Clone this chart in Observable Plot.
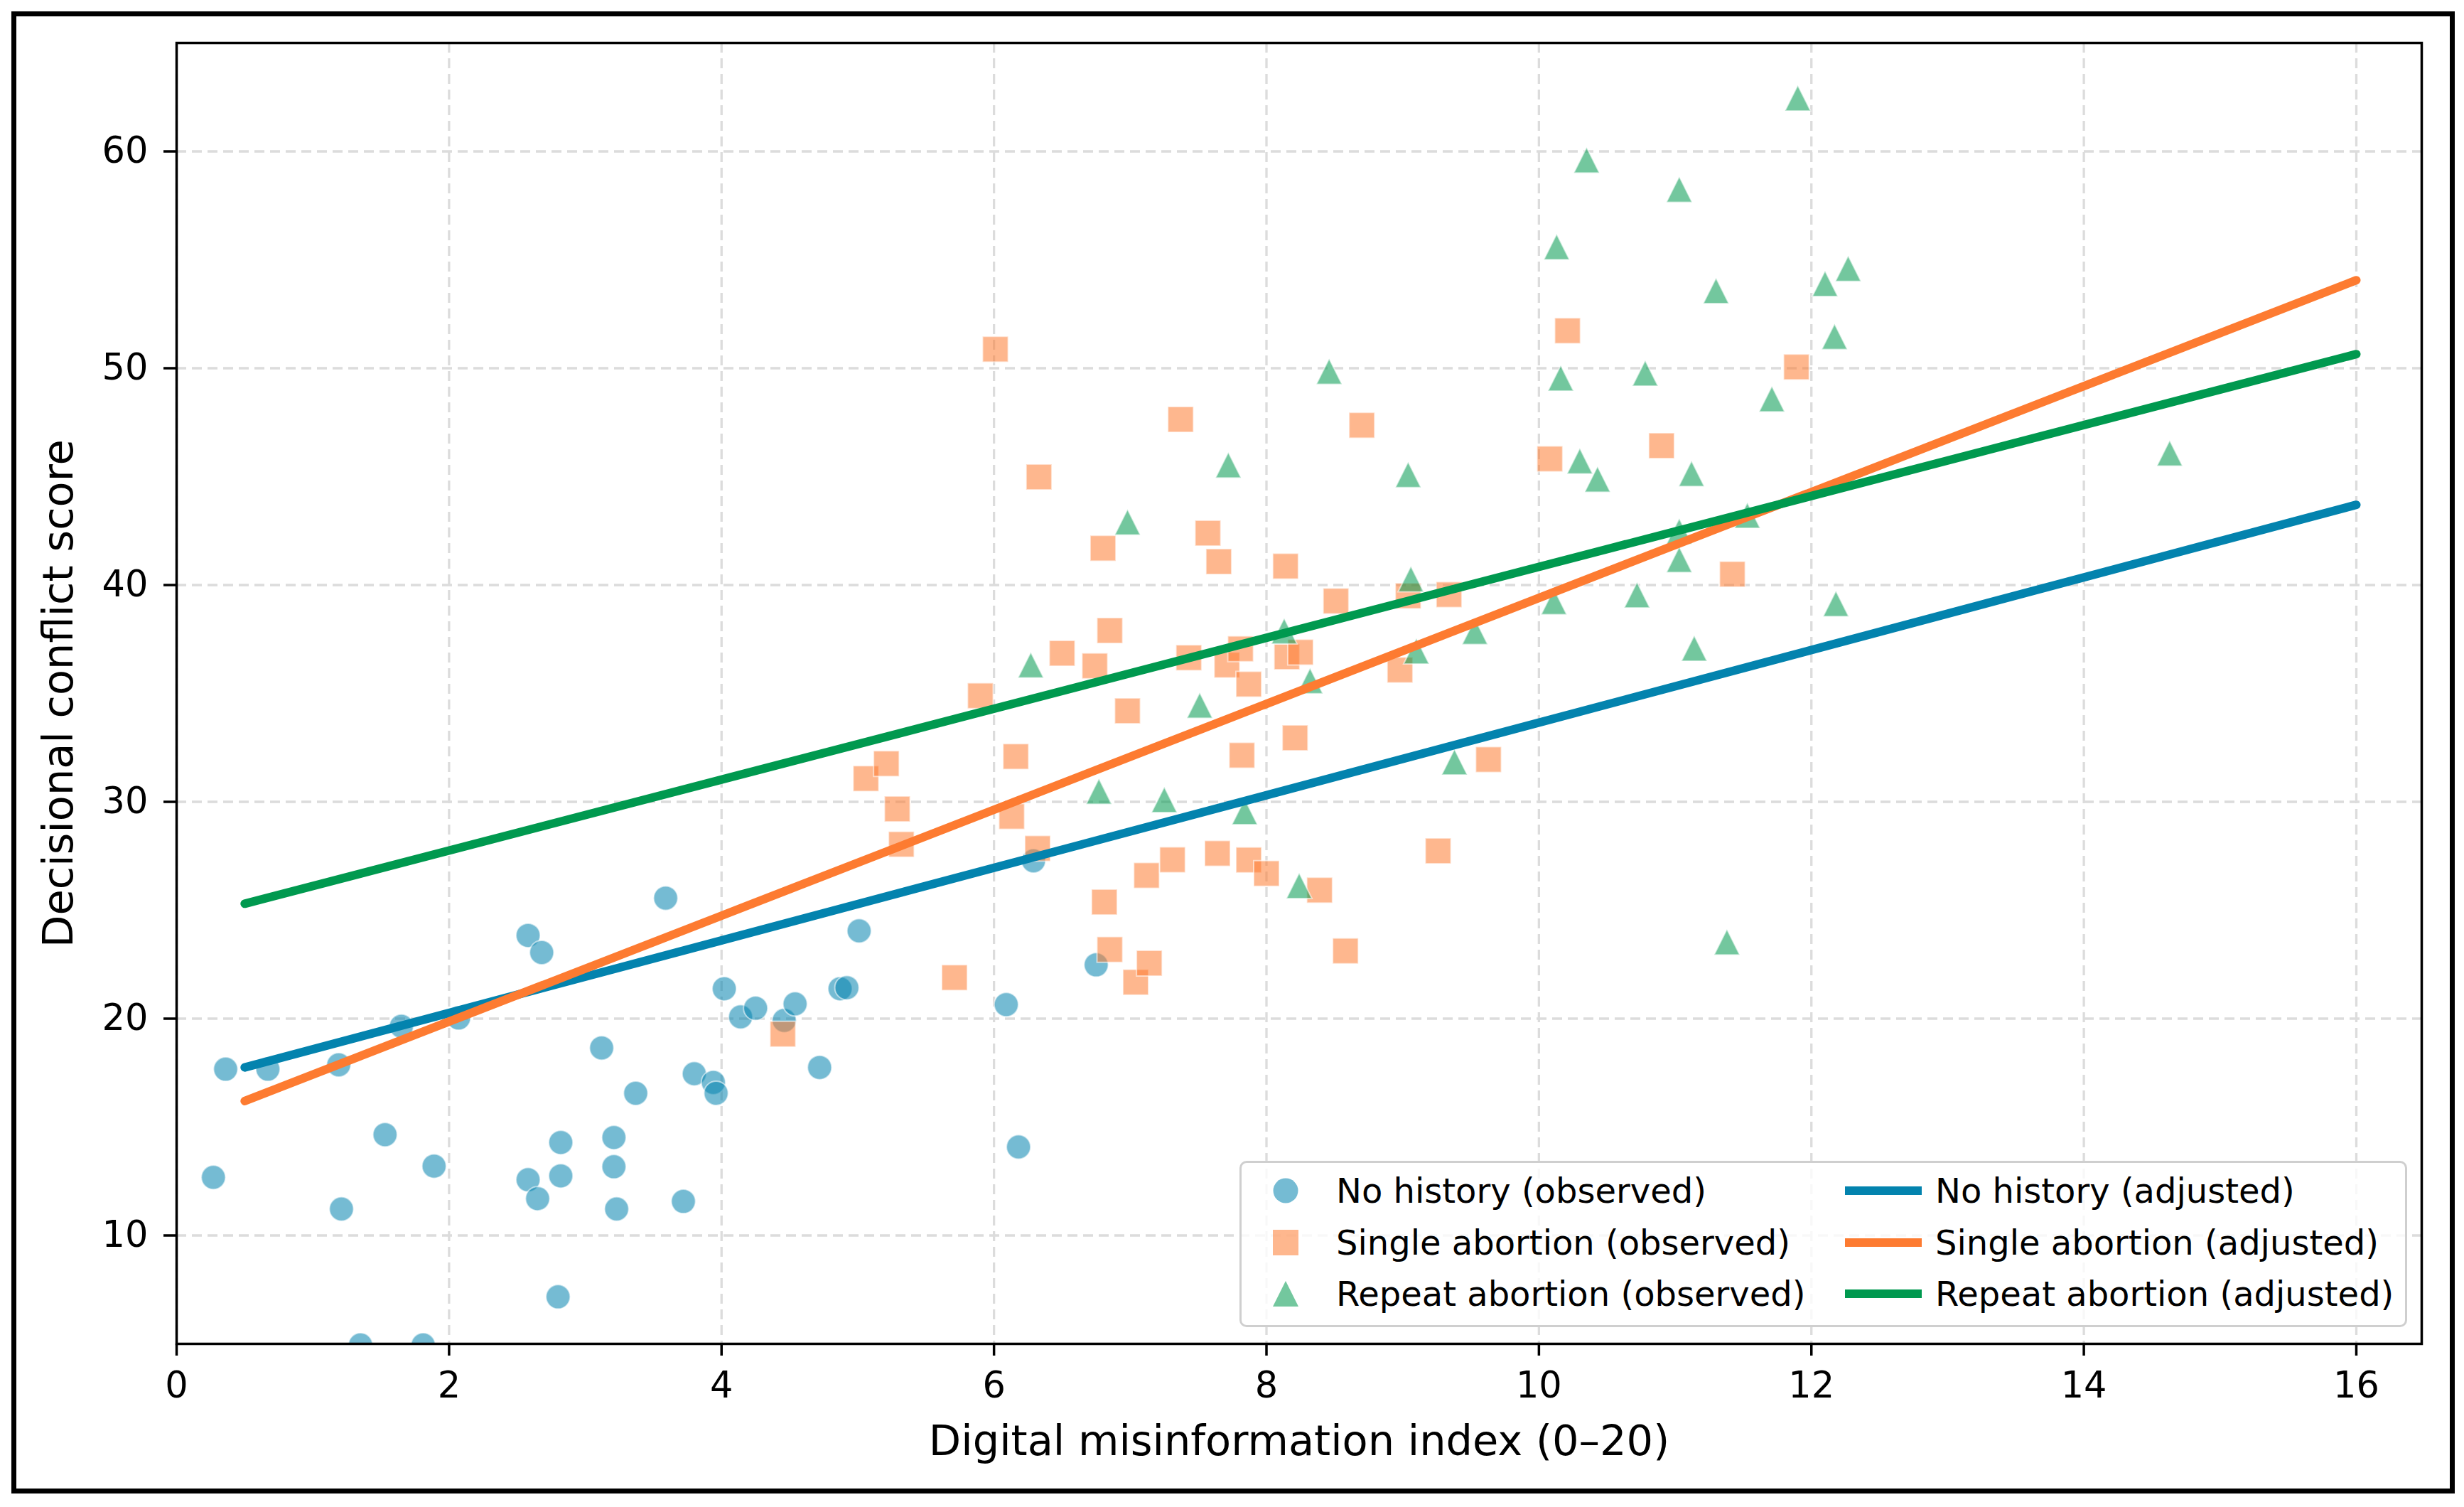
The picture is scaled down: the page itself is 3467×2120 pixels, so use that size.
<!DOCTYPE html>
<html>
<head>
<meta charset="utf-8">
<script src="https://cdn.jsdelivr.net/npm/d3@7"></script>
<script src="https://cdn.jsdelivr.net/npm/@observablehq/plot@0.6"></script>
<style>
  html, body { margin: 0; padding: 0; background: #ffffff; }
  #wrap { position: relative; width: 3467px; height: 2120px; background: #ffffff; overflow: hidden; font-family: "DejaVu Sans", sans-serif; }
  #chart { position: absolute; left: 0; top: 0; }
  #border { position: absolute; left: 16px; top: 16px; width: 3438px; height: 2085px; box-sizing: border-box; border: 7px solid #000; pointer-events: none; }
  #legend { position: absolute; left: 1744px; top: 1633px; width: 1643px; height: 234px; box-sizing: border-box; border: 3px solid #cfcfcf; border-radius: 10px; background: rgba(255,255,255,0.8); }
  .entry { position: absolute; height: 60px; line-height: 60px; font-size: 48px; color: #000; white-space: nowrap; }
  .handle { position: absolute; }
</style>
</head>
<body>
<div id="wrap">
  <div id="chart"></div>
  <div id="legend"></div>
  <div id="border"></div>
</div>
<script>
// ---------- data ----------
const xTicks = [0, 2, 4, 6, 8, 10, 12, 14, 16];
const yTicks = [10, 20, 30, 40, 50, 60];

const xLabel = "Digital misinformation index (0–20)";
const yLabel = "Decisional conflict score";

const seriesNames = ["No history", "Single abortion", "Repeat abortion"];
const seriesColors = ["#0383ae", "#fd7b31", "#00994f"];

// No history (observed)
const noHistX = [0.27, 0.36, 0.67, 1.19, 1.21, 1.35, 1.53, 1.65, 1.81, 1.89, 2.07, 2.58, 2.68, 2.58, 2.65, 2.82, 2.82, 2.80, 3.12, 3.21, 3.21, 3.23, 3.37, 3.59, 3.80, 3.72, 3.94, 3.96, 4.02, 4.14, 4.25, 4.46, 4.54, 4.72, 4.87, 4.92, 5.01, 6.09, 6.18, 6.29, 6.75];
const noHistY = [12.68, 17.67, 17.67, 17.87, 11.22, 4.95, 14.65, 19.65, 4.95, 13.20, 20.03, 23.84, 23.05, 12.57, 11.70, 12.75, 14.29, 7.17, 18.65, 14.52, 13.17, 11.22, 16.56, 25.56, 17.46, 11.57, 17.06, 16.56, 21.38, 20.08, 20.48, 19.92, 20.68, 17.75, 21.38, 21.43, 24.05, 20.65, 14.08, 27.28, 22.48];

// Single abortion (observed)
const singleX = [4.45, 5.06, 5.21, 5.29, 5.32, 5.71, 5.90, 6.01, 6.13, 6.16, 6.32, 6.33, 6.50, 6.74, 6.80, 6.81, 6.85, 6.85, 6.98, 7.04, 7.12, 7.14, 7.31, 7.37, 7.43, 7.57, 7.64, 7.65, 7.71, 7.81, 7.82, 7.87, 7.87, 8.00, 8.14, 8.15, 8.21, 8.25, 8.39, 8.51, 8.58, 8.70, 8.98, 9.04, 9.26, 9.34, 9.63, 10.08, 10.21, 10.90, 11.42, 11.89];
const singleY = [19.29, 31.07, 31.76, 29.67, 28.04, 21.89, 34.89, 50.88, 29.33, 32.09, 27.85, 44.98, 36.85, 36.27, 41.70, 25.38, 37.90, 23.19, 34.20, 21.68, 26.61, 22.56, 27.33, 47.64, 36.65, 42.39, 27.62, 41.08, 36.31, 37.06, 32.15, 35.43, 27.32, 26.70, 40.87, 36.69, 32.95, 36.90, 25.93, 39.26, 23.12, 47.37, 36.08, 39.50, 27.74, 39.56, 31.95, 45.82, 51.73, 46.43, 40.50, 50.06];

// Repeat abortion (observed)
const repeatX = [6.27, 6.77, 6.98, 7.25, 7.51, 7.72, 7.84, 8.13, 8.24, 8.32, 8.46, 9.04, 9.06, 9.10, 9.38, 9.53, 10.11, 10.13, 10.16, 10.30, 10.35, 10.43, 10.72, 10.78, 11.03, 11.03, 11.03, 11.12, 11.14, 11.30, 11.38, 11.53, 11.71, 11.90, 12.10, 12.17, 12.18, 12.27, 14.63];
const repeatY = [36.31, 30.48, 42.90, 30.10, 34.45, 45.53, 29.54, 37.88, 26.13, 35.58, 49.85, 45.09, 40.28, 36.95, 31.84, 37.85, 39.23, 55.60, 49.54, 45.72, 59.60, 44.88, 39.54, 49.77, 58.25, 42.48, 41.17, 45.14, 37.08, 53.57, 23.53, 43.21, 48.58, 62.46, 53.90, 51.46, 39.14, 54.60, 46.08];

// Adjusted (fitted) lines: endpoints
const fitX = [0.5, 16];
const noHistFit = [17.75, 43.70];
const singleFit = [16.20, 54.06];
const repeatFit = [25.30, 50.65];

// ---------- build tables ----------
const pts = (xs, ys) => xs.map((x, i) => ({x, y: ys[i]}));
const noHistPts = pts(noHistX, noHistY);
const singlePts = pts(singleX, singleY);
const repeatPts = pts(repeatX, repeatY);

// custom matplotlib-like symbols (bbox-centred)
const squareSym = {draw(ctx, size) { const r = Math.sqrt(size / Math.PI); ctx.rect(-r, -r, 2 * r, 2 * r); }};
const triSym = {draw(ctx, size) { const r = Math.sqrt(size / Math.PI); ctx.moveTo(0, -r); ctx.lineTo(r, r); ctx.lineTo(-r, r); ctx.closePath(); }};

const ptAlpha = 0.55;

const chart = Plot.plot({
  width: 3467,
  height: 2120,
  marginLeft: 248,
  marginRight: 60,
  marginTop: 60,
  marginBottom: 230,
  style: {fontFamily: "DejaVu Sans", fontSize: "50px", color: "#000", background: "transparent", overflow: "visible"},
  x: {domain: [0, 16.48]},
  y: {domain: [5, 65]},
  marks: [
    Plot.gridX({ticks: xTicks, stroke: "#dcdcdc", strokeOpacity: 1, strokeWidth: 3.3, strokeDasharray: "14,8"}),
    Plot.gridY({ticks: yTicks, stroke: "#dcdcdc", strokeOpacity: 1, strokeWidth: 3.3, strokeDasharray: "14,8"}),
    Plot.dot(noHistPts, {x: "x", y: "y", r: 17, symbol: "circle", fill: seriesColors[0], fillOpacity: ptAlpha, stroke: "white", strokeOpacity: ptAlpha, strokeWidth: 2, clip: true}),
    Plot.dot(singlePts, {x: "x", y: "y", r: 18, symbol: squareSym, fill: seriesColors[1], fillOpacity: ptAlpha, stroke: "white", strokeOpacity: ptAlpha, strokeWidth: 2, clip: true}),
    Plot.dot(repeatPts, {x: "x", y: "y", r: 18, symbol: triSym, fill: seriesColors[2], fillOpacity: ptAlpha, stroke: "white", strokeOpacity: ptAlpha, strokeWidth: 2, clip: true}),
    Plot.line(pts(fitX, noHistFit), {x: "x", y: "y", stroke: seriesColors[0], strokeWidth: 12}),
    Plot.line(pts(fitX, singleFit), {x: "x", y: "y", stroke: seriesColors[1], strokeWidth: 12}),
    Plot.line(pts(fitX, repeatFit), {x: "x", y: "y", stroke: seriesColors[2], strokeWidth: 12}),
    Plot.frame({stroke: "#000", strokeWidth: 3.5}),
    Plot.axisX({ticks: xTicks, tickSize: 17, tickPadding: 22, fontSize: 51, stroke: "#000", strokeWidth: 3.5, label: null, fill: "#000"}),
    Plot.axisY({ticks: yTicks, tickSize: 18, tickPadding: 22, fontSize: 51, stroke: "#000", strokeWidth: 3.5, label: null, fill: "#000"}),
    Plot.text([xLabel], {frameAnchor: "bottom", dy: 138, fontSize: 59, lineAnchor: "middle", textAnchor: "middle", fill: "#000"}),
    Plot.text([yLabel], {frameAnchor: "left", dx: -165, rotate: -90, fontSize: 59, lineAnchor: "middle", textAnchor: "middle", fill: "#000"})
  ]
});
document.getElementById("chart").appendChild(chart);

// ---------- legend (inside the axes, lower right) ----------
const legend = document.getElementById("legend");
const rowCenters = [39, 112, 184];
const markerSvgs = [
  c => `<svg width="40" height="40" viewBox="-20 -20 40 40"><circle r="17.5" fill="${c}" fill-opacity="${ptAlpha}"/></svg>`,
  c => `<svg width="40" height="40" viewBox="-20 -20 40 40"><rect x="-18" y="-18" width="36" height="36" fill="${c}" fill-opacity="${ptAlpha}"/></svg>`,
  c => `<svg width="40" height="40" viewBox="-20 -20 40 40"><path d="M0,-18L18,18L-18,18Z" fill="${c}" fill-opacity="${ptAlpha}"/></svg>`
];
seriesNames.forEach((name, i) => {
  const cy = rowCenters[i];
  // observed marker
  const h1 = document.createElement("div");
  h1.className = "handle";
  h1.style.left = (62 - 20) + "px";
  h1.style.top = (cy - 20) + "px";
  h1.innerHTML = markerSvgs[i](seriesColors[i]);
  legend.appendChild(h1);
  const t1 = document.createElement("div");
  t1.className = "entry";
  t1.style.left = "133px";
  t1.style.top = (cy - 30) + "px";
  t1.textContent = name + " (observed)";
  legend.appendChild(t1);
  // adjusted line
  const h2 = document.createElement("div");
  h2.className = "handle";
  h2.style.left = "849px";
  h2.style.top = (cy - 10) + "px";
  h2.innerHTML = `<svg width="108" height="20"><line x1="0" y1="10" x2="108" y2="10" stroke="${seriesColors[i]}" stroke-width="12"/></svg>`;
  legend.appendChild(h2);
  const t2 = document.createElement("div");
  t2.className = "entry";
  t2.style.left = "976px";
  t2.style.top = (cy - 30) + "px";
  t2.textContent = name + " (adjusted)";
  legend.appendChild(t2);
});
</script>
</body>
</html>
